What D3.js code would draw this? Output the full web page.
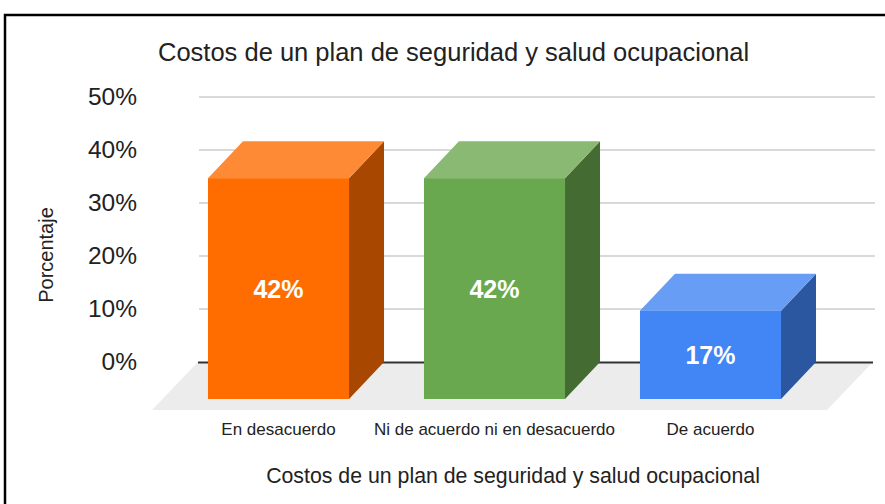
<!DOCTYPE html>
<html>
<head>
<meta charset="utf-8">
<script src="https://cdn.jsdelivr.net/npm/d3@7"></script>
<style>
  html, body { margin: 0; padding: 0; background: #fff; }
  svg { display: block; font-family: Arial, "Liberation Sans", sans-serif; }
</style>
</head>
<body>
<div id="chart"></div>
<script>
// chart data
const categories = ["En desacuerdo", "Ni de acuerdo ni en desacuerdo", "De acuerdo"]
const values = [0.4167, 0.4167, 0.1667]
const yTicks = [0, 0.1, 0.2, 0.3, 0.4, 0.5]
const frontColors = ["#ff6d01", "#6aa84f", "#4285f4"]
const topColors = ["#ff8a36", "#89b973", "#689df6"]
const sideColors = ["#a84800", "#446c32", "#2b57a0"]

const chartTitle = "Costos de un plan de seguridad y salud ocupacional"
const xTitle = "Costos de un plan de seguridad y salud ocupacional"
const yTitle = "Porcentaje"

const width = 885, height = 504

// depth of the 3d bars (back plane -> front face)
const dx = 35, dy = 37
// the floor sticks out a bit more than the bars
const floorDx = 46, floorDy = 48

const svg = d3.select("#chart").append("svg")
  .attr("width", width)
  .attr("height", height)

// scales live on the back plane (where the grid is)
const y = d3.scaleLinear().domain([0, 0.5]).range([362, 97])
const x = d3.scaleBand().domain(categories)
  .range([205.5, 853.5])
  .paddingInner(0.347)
  .paddingOuter(0.1735)

const gridLeft = 199, gridRight = 875

// frame around the chart
svg.append("path")
  .attr("d", `M5,${height + 5} L5,15 L${width + 5},15`)
  .attr("fill", "none")
  .attr("stroke", "#000")
  .attr("stroke-width", 2.5)

// title
svg.append("text")
  .attr("x", 158)
  .attr("y", 61)
  .attr("font-size", 25.5)
  .attr("fill", "#222")
  .text(chartTitle)

// grid lines
svg.append("g")
  .selectAll("line")
  .data(yTicks.filter(d => d > 0))
  .enter()
  .append("line")
  .attr("x1", gridLeft)
  .attr("x2", gridRight)
  .attr("y1", d => y(d))
  .attr("y2", d => y(d))
  .attr("stroke", "#cccccc")
  .attr("stroke-width", 1.5)

// y axis labels
const yAxis = d3.axisLeft(y)
  .tickValues(yTicks)
  .tickFormat(d3.format(".0%"))
  .tickSize(0)
  .tickPadding(62)

const yAxisG = svg.append("g")
  .attr("transform", `translate(${gridLeft},0)`)
  .call(yAxis)
yAxisG.select(".domain").remove()
yAxisG.selectAll("text")
  .attr("font-size", 24.5)
  .attr("font-family", "Arial, 'Liberation Sans', sans-serif")
  .attr("fill", "#222")

// floor
const y0 = y(0)
svg.append("path")
  .attr("d", `M${gridLeft - 1},${y0} L${gridRight - 2},${y0} L${gridRight - 2 - floorDx},${y0 + floorDy} L${gridLeft - 1 - floorDx},${y0 + floorDy} Z`)
  .attr("fill", "#ececec")

svg.append("line")
  .attr("x1", gridLeft - 1)
  .attr("x2", gridRight - 2)
  .attr("y1", y0 + 0.5)
  .attr("y2", y0 + 0.5)
  .attr("stroke", "#333")
  .attr("stroke-width", 2)

// bars
const bw = x.bandwidth()
const bars = svg.append("g")
  .selectAll("g")
  .data(values.map((v, i) => ({ v, i, c: categories[i] })))
  .enter()
  .append("g")

// side face
bars.append("path")
  .attr("fill", d => sideColors[d.i])
  .attr("d", d => {
    let xr = x(d.c) + bw
    return `M${xr - dx},${y(d.v) + dy} L${xr},${y(d.v)} L${xr},${y0} L${xr - dx},${y0 + dy} Z`
  })

// top face
bars.append("path")
  .attr("fill", d => topColors[d.i])
  .attr("d", d => {
    let xl = x(d.c), xr = xl + bw, yt = y(d.v)
    return `M${xl - dx},${yt + dy} L${xr - dx},${yt + dy} L${xr},${yt} L${xl},${yt} Z`
  })

// front face
bars.append("rect")
  .attr("fill", d => frontColors[d.i])
  .attr("x", d => x(d.c) - dx)
  .attr("y", d => y(d.v) + dy)
  .attr("width", bw)
  .attr("height", d => y0 - y(d.v))

// value labels
bars.append("text")
  .attr("x", d => x(d.c) - dx + bw / 2)
  .attr("y", d => (y(d.v) + y0) / 2 + dy)
  .attr("text-anchor", "middle")
  .attr("dominant-baseline", "central")
  .attr("font-size", 25)
  .attr("font-weight", "bold")
  .attr("fill", "#fff")
  .text(d => d3.format(".0%")(d.v))

// category labels
svg.append("g")
  .selectAll("text")
  .data(categories)
  .enter()
  .append("text")
  .attr("x", d => x(d) - dx + bw / 2)
  .attr("y", 435)
  .attr("text-anchor", "middle")
  .attr("font-size", 17)
  .attr("fill", "#222")
  .text(d => d)

// axis titles
svg.append("text")
  .attr("x", 513)
  .attr("y", 483)
  .attr("text-anchor", "middle")
  .attr("font-size", 21.3)
  .attr("fill", "#222")
  .text(xTitle)

svg.append("text")
  .attr("transform", "translate(53,255) rotate(-90)")
  .attr("text-anchor", "middle")
  .attr("font-size", 20)
  .attr("fill", "#222")
  .text(yTitle)
</script>
</body>
</html>
